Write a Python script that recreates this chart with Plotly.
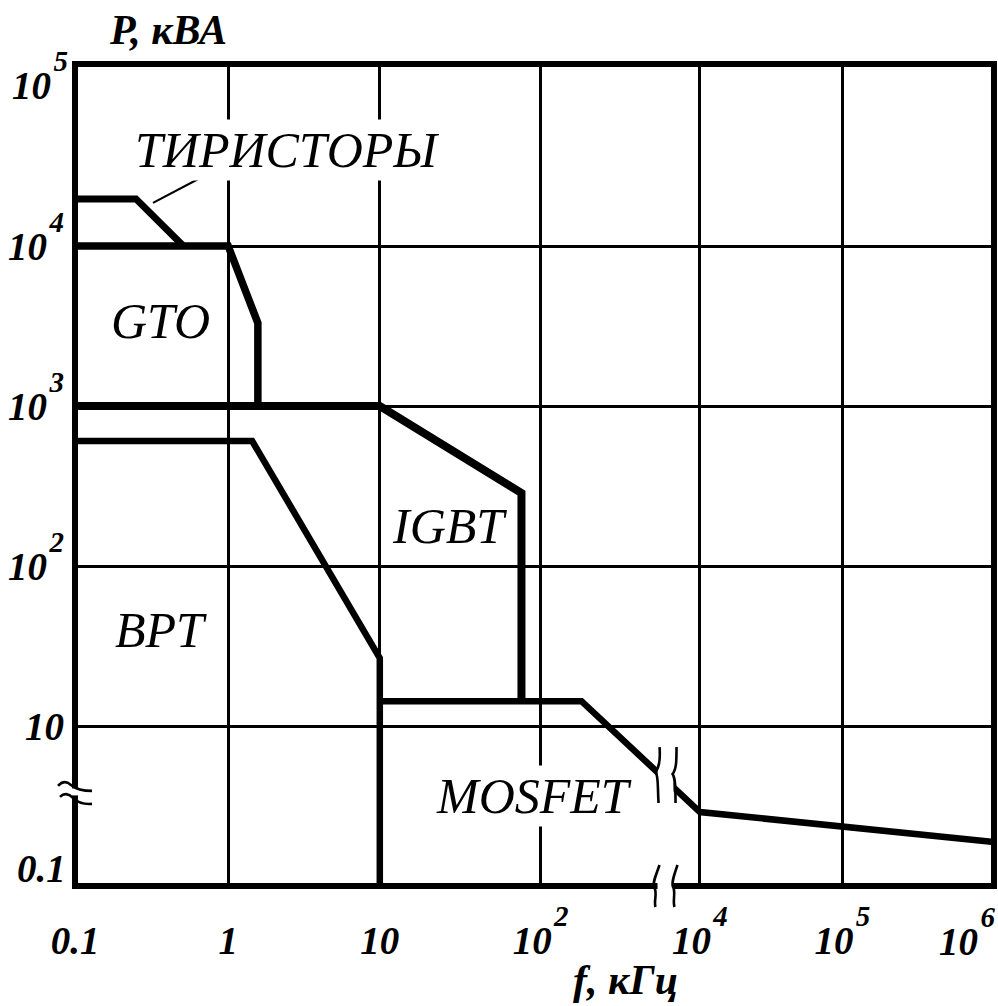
import numpy as np
import plotly.graph_objects as go

# ---------------- data (f in kHz, P in kVA) ----------------
thyristor_f = [0.1, 0.25, 0.51]
thyristor_p = [19700, 19700, 10000]
gto_f = [0.1, 1.0, 1.57, 1.57]
gto_p = [10000, 10000, 3300, 1000]
igbt_f = [0.1, 10, 76, 76]
igbt_p = [1000, 1000, 286, 14.3]
mosfet_f = [10, 326, 1.0e4, 1.0e6]
mosfet_p = [14.3, 14.3, 0.84, 0.355]
bpt_f = [0.1, 1.44, 10, 10]
bpt_p = [604, 604, 26.6, 0.1]
leader_f = [0.323, 0.78]
leader_p = [18600, 29000]


def pow10(e):
    return ("10<sup><sup><span style='font-size:29px'>&#8202;" + str(e)
            + "</span></sup></sup>")


x_tick_values = [0.1, 1, 10, 100, 1e4, 1e5]
x_tick_labels = ["0.1", "1", "10", pow10(2), pow10(4), pow10(5)]
x_end_value = 1e6
x_end_label = pow10(6)
y_tick_values = [10, 100, 1e3, 1e4]
y_tick_labels = ["10", pow10(2), pow10(3), pow10(4)]
y_low_value, y_low_label = 0.1, "0.1"
y_top_value, y_top_label = 1e5, pow10(5)
x_break_value = 3700      # kHz, inside the broken part of the f axis
y_break_value = 1.5       # kVA, inside the broken part of the P axis

# ---------------- broken log scales ----------------
X_LOG = [-1, 0, 1, 2, 4, 5, 6]
X_POS = [0, 1.0, 1.99, 3.04, 4.08, 5.01, 6.0]
Y_LOG = [-1, 1, 2, 3, 4, 5]
Y_POS = [0, 1, 2, 3, 4, 5]
X_RANGE = [0, 6]
Y_RANGE = [0, 5.1375]


def fx(v):
    return np.interp(np.log10(np.asarray(v, dtype=float)), X_LOG, X_POS)


def fy(v):
    return np.interp(np.log10(np.asarray(v, dtype=float)), Y_LOG, Y_POS)


def px_paper_x(v):
    return float(fx(v) / X_RANGE[1])


def px_paper_y(v):
    return float(fy(v) / Y_RANGE[1])


SERIF = "Liberation Serif"
fig = go.Figure()

series = [
    (thyristor_f, thyristor_p, 7),
    (gto_f, gto_p, 7.5),
    (igbt_f, igbt_p, 8),
    (mosfet_f, mosfet_p, 6.5),
    (bpt_f, bpt_p, 6.5),
]
for f, p, w in series:
    fig.add_trace(go.Scatter(x=fx(f), y=fy(p), mode="lines",
                             line=dict(color="black", width=w),
                             hoverinfo="skip", showlegend=False))
fig.add_trace(go.Scatter(x=fx(leader_f), y=fy(leader_p), mode="lines",
                         line=dict(color="black", width=2.2),
                         hoverinfo="skip", showlegend=False))

tickfont = dict(family=SERIF, size=39, color="black", style="italic", weight="bold")

fig.update_layout(
    width=998, height=1006,
    margin=dict(l=75, r=4, t=64, b=120),
    paper_bgcolor="white", plot_bgcolor="white",
    xaxis=dict(range=X_RANGE, tickvals=fx(x_tick_values), ticktext=x_tick_labels,
               showgrid=True, gridcolor="black", gridwidth=2.5, zeroline=False,
               showline=False, ticks="", tickfont=tickfont, ticklabelstandoff=28,
               fixedrange=True),
    yaxis=dict(range=Y_RANGE, tickvals=fy(y_tick_values), ticktext=y_tick_labels,
               showgrid=True, gridcolor="black", gridwidth=2.5, zeroline=False,
               showline=False, ticks="", tickfont=tickfont, ticklabelstandoff=10,
               fixedrange=True),
)

shapes = [dict(type="rect", xref="paper", yref="paper", x0=0, x1=1, y0=0, y1=1,
               line=dict(color="black", width=6), layer="above")]


def white_gap(xa, ya, w, h):
    return dict(type="rect", xref="paper", yref="paper", xsizemode="pixel", ysizemode="pixel",
                xanchor=xa, yanchor=ya, x0=-w, x1=w, y0=-h, y1=h,
                fillcolor="white", line=dict(width=0), layer="above")


def stroke(xa, ya, path, w=2.6):
    return dict(type="path", xref="paper", yref="paper", xsizemode="pixel", ysizemode="pixel",
                xanchor=xa, yanchor=ya, path=path,
                line=dict(color="black", width=w), layer="above")


# break on the P axis (left border)
ya_b = px_paper_y(y_break_value)
shapes.append(white_gap(0, ya_b, 6, 3.5))
shapes.append(stroke(0, ya_b, "M -17,6 Q -11,13 -4,7 T 17,1"))
shapes.append(stroke(0, ya_b, "M -15,-5 Q -9,1 -2,-6 T 17,-12"))

# break on the f axis: across the MOSFET curve and the bottom border
xa_b = px_paper_x(x_break_value)
ya_m = 0.135
shapes.append(white_gap(xa_b, ya_m, 8, 30))
shapes.append(stroke(xa_b, ya_m, "M -6,28 C -5,15 -6,8 -10,3 C -7,0 -8,-12 -7,-28"))
shapes.append(stroke(xa_b, ya_m, "M 11,28 C 11,15 11,6 7,1 C 10,-3 10,-14 10,-28"))
shapes.append(white_gap(xa_b, 0, 8, 5))
shapes.append(stroke(xa_b, 0, "M -6,21 C -9,12 -14,2 -11,-2 C -8,-8 -12,-15 -10,-21"))
shapes.append(stroke(xa_b, 0, "M 12,21 C 9,12 5,2 8,-2 C 10,-8 7,-15 9,-21"))
fig.update_layout(shapes=shapes)

labelfont = dict(family=SERIF, size=50, color="black", style="italic")
region_labels = [
    ("ТИРИСТОРЫ", 1.384, 4.60, "white"),
    ("GTO", 0.555, 3.53, None),
    ("IGBT", 2.442, 2.25, None),
    ("BPT", 0.561, 1.60, None),
    ("MOSFET", 2.997, 0.5625, "white"),
]
annotations = []
for txt, xp, yp, bg in region_labels:
    a = dict(text=txt, x=xp, y=yp, xref="x", yref="y", showarrow=False,
             font=labelfont, xanchor="center", yanchor="middle")
    if bg:
        a.update(bgcolor=bg, borderpad=2)
    annotations.append(a)

titlefont = dict(family=SERIF, size=42, color="black", style="italic", weight="bold")
annotations += [
    dict(text="P, кВА", xref="paper", yref="paper", x=(168 - 75) / 919, y=(886 - 30) / 822,
         showarrow=False, font=titlefont, xanchor="center", yanchor="middle"),
    dict(text="f, кГц", xref="paper", yref="paper", x=(625 - 75) / 919, y=(886 - 980) / 822,
         showarrow=False, font=titlefont, xanchor="center", yanchor="middle"),
    dict(text=y_low_label, xref="paper", yref="paper", x=0, xshift=-7,
         y=(886 - 868) / 822, showarrow=False, font=tickfont, xanchor="right", yanchor="middle"),
    dict(text=y_top_label, xref="paper", yref="paper", x=0, xshift=-5,
         y=px_paper_y(y_top_value), yshift=10, showarrow=False, font=tickfont,
         xanchor="right", yanchor="middle"),
    dict(text=x_end_label, xref="paper", yref="paper", x=px_paper_x(x_end_value), xshift=3,
         y=0, yshift=-13, showarrow=False, font=tickfont, xanchor="right", yanchor="top"),
]
fig.update_layout(annotations=annotations)

fig.write_html(
    "out.html",
    config={"displayModeBar": False},
    post_script="document.documentElement.style.margin='0';document.body.style.margin='0';"
                "document.body.style.overflow='hidden';",
)
